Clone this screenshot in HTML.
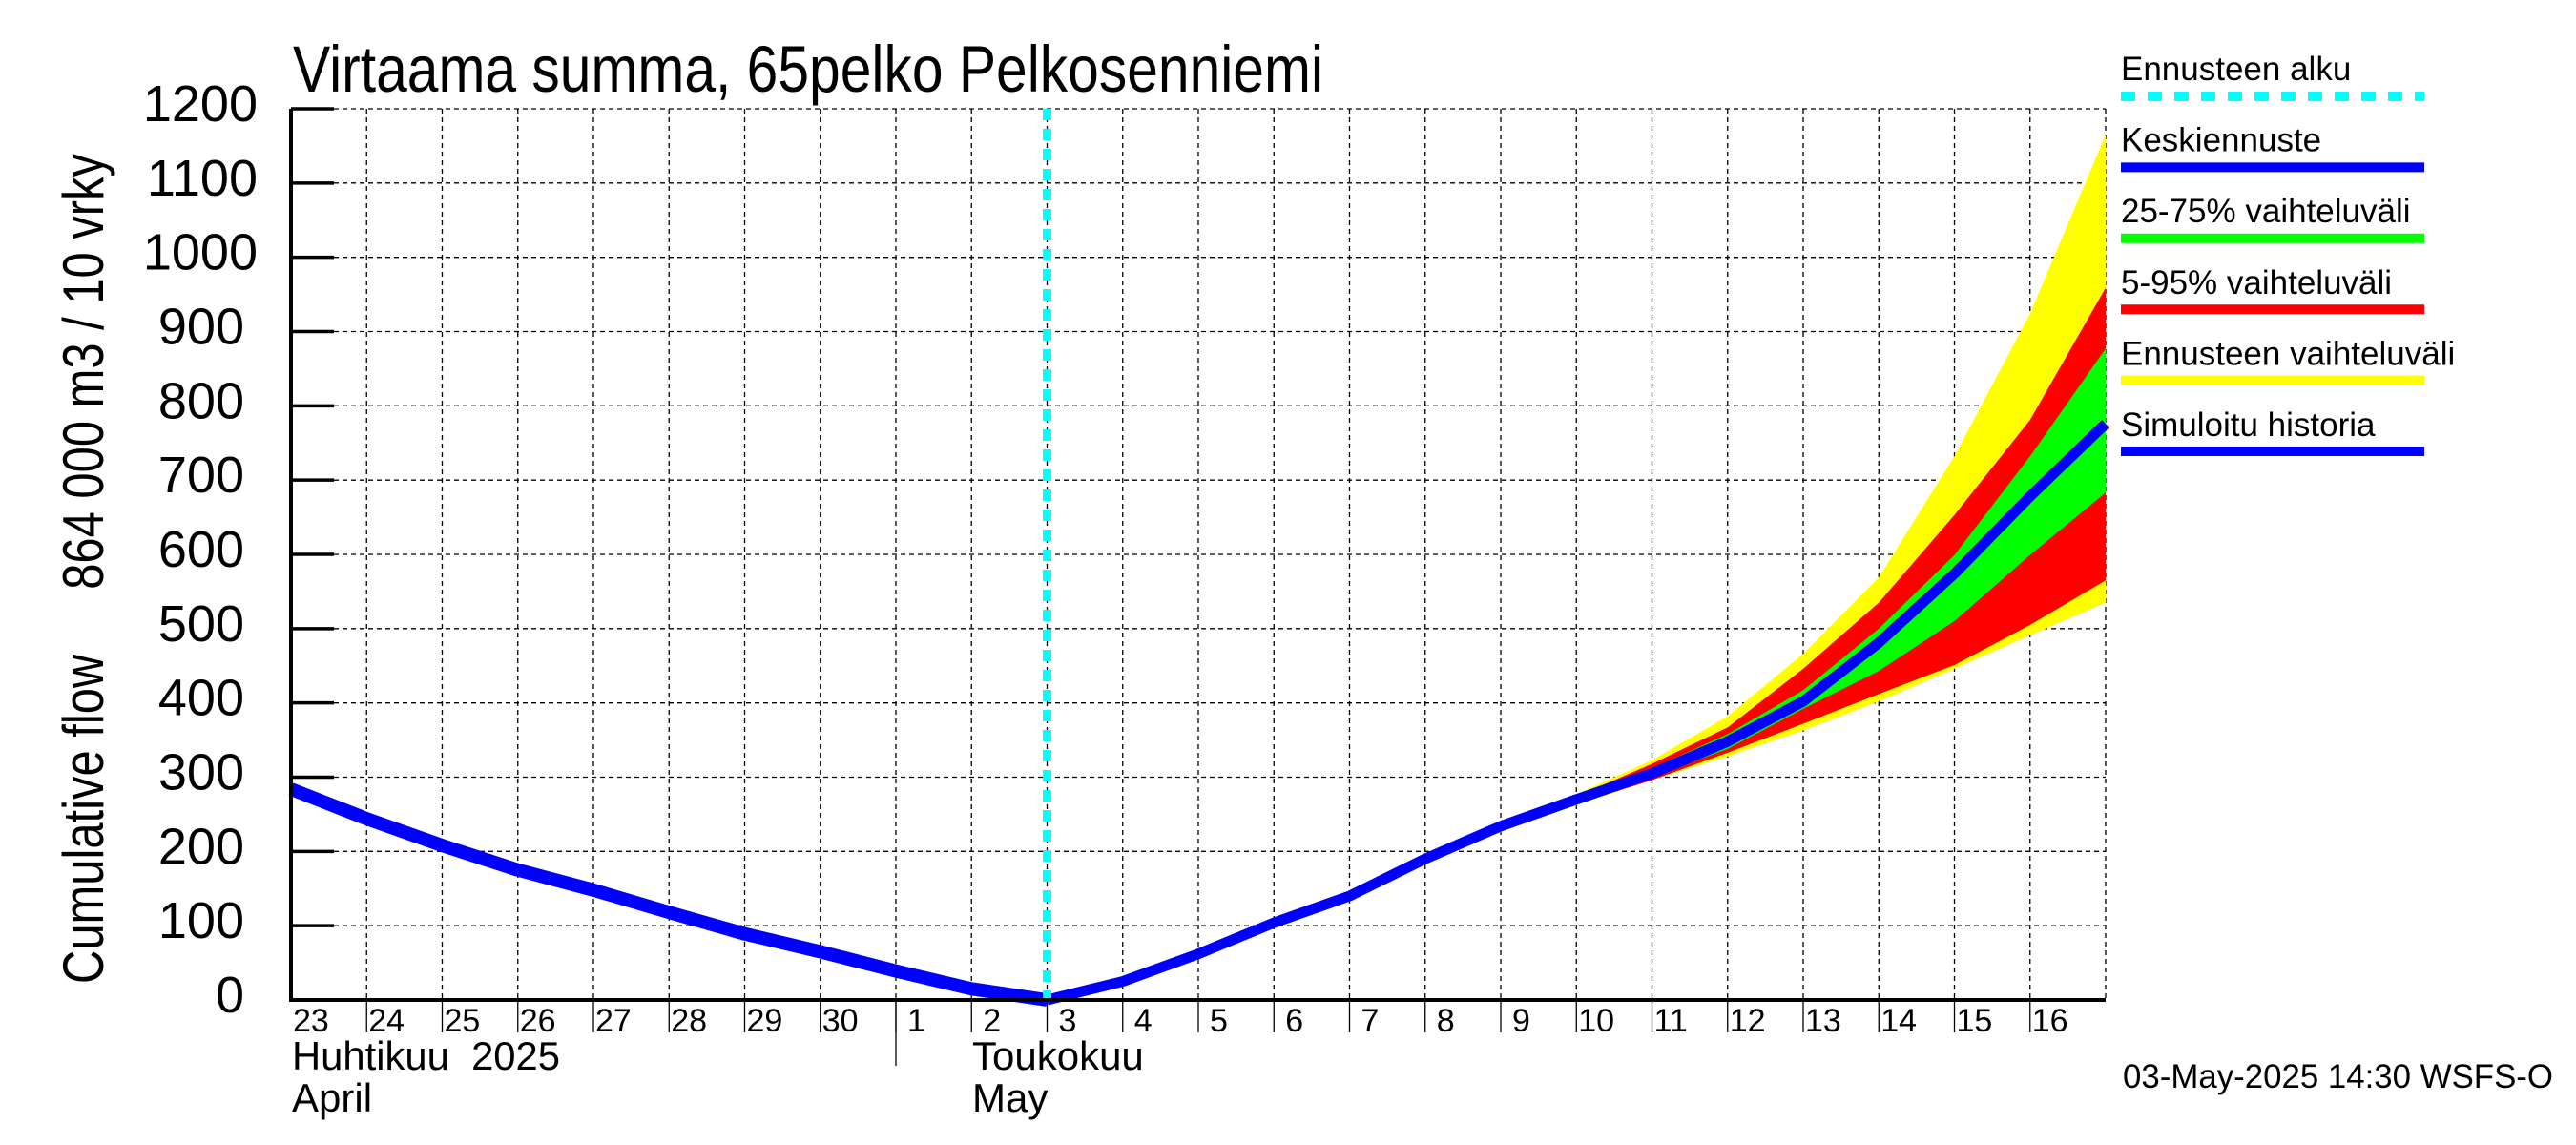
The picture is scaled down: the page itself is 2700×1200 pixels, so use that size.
<!DOCTYPE html>
<html><head><meta charset="utf-8"><style>
html,body{margin:0;padding:0;background:#fff}
svg{display:block;font-family:"Liberation Sans",sans-serif}
text{white-space:pre}
</style></head><body>
<svg id="chart" width="2700" height="1200" viewBox="0 0 2700 1200">
</svg>
<script>
const dayLabels=["23","24","25","26","27","28","29","30","1","2","3","4","5","6","7","8","9","10","11","12","13","14","15","16"];
const yTicks=[0,100,200,300,400,500,600,700,800,900,1000,1100,1200];
const histDays=[0,1,2,3,4,5,6,7,8,9,10];
const histValues=[284,244,208,175,148,118,89,65,39,15,0];
const fcDays=[10,11,12,13,14,15,16,17,18,19,20,21,22,23,24];
const medianValues=[0,25,62,104,140,190,234,270,305,348,402,481,574,678,776];
const yellowHigh=[0,25,62,104,142,193,240,277,323,382,466,569,732,924,1165];
const yellowLow=[0,25,62,104,138,186,226,262,296,328,363,402,446,491,535];
const redHigh=[0,25,62,104,141,191,237,274,318,367,446,535,653,781,959];
const redLow=[0,25,62,104,139,187,228,264,296,333,372,412,451,505,565];
const greenHigh=[0,25,62,104,140,190,235,272,312,358,417,500,599,732,877];
const greenLow=[0,25,62,104,140,189,232,268,300,338,392,443,510,599,683];
const forecastStart=10;

const L=305,R=2207,T=114,B=1048,NDAYS=24,YMAX=1200;
const xs=d=>L+(R-L)*d/NDAYS;
const ys=v=>B-(B-T)*v/YMAX;
const svg=document.getElementById('chart');
const NS='http://www.w3.org/2000/svg';
function mk(tag,attrs,parent){const e=document.createElementNS(NS,tag);for(const k in attrs)e.setAttribute(k,attrs[k]);(parent||svg).appendChild(e);return e;}

const grid=mk('g',{});


yTicks.forEach(v=>{if(v>0){const l=mk('line',{x1:L,x2:R,y1:ys(v),y2:ys(v),stroke:'#000','stroke-width':1.3,'stroke-dasharray':'5,4'},grid);

}});
for(let d=1;d<=NDAYS;d++){const l=mk('line',{x1:xs(d),x2:xs(d),y1:T,y2:B,stroke:'#000','stroke-width':1.3,'stroke-dasharray':'5,4'},grid);

}

function band(hi,lo,color,name){
  let p='M'+fcDays.map((d,i)=>xs(d)+','+ys(hi[i])).join('L');
  p+='L'+fcDays.slice().reverse().map((d,i)=>xs(d)+','+ys(lo[lo.length-1-i])).join('L')+'Z';
  const e=mk('path',{d:p,fill:color,stroke:'none'});
  
  
}
band(yellowHigh,yellowLow,'#ffff00','forecast-range-band');
band(redHigh,redLow,'#ff0000','band-5-95');
band(greenHigh,greenLow,'#00ff00','band-25-75');

const hl=mk('polyline',{points:histDays.map((d,i)=>xs(d)+','+ys(histValues[i])).join(' '),fill:'none',stroke:'#0000ff','stroke-width':14,'stroke-linejoin':'round'});


const ml=mk('polyline',{points:fcDays.map((d,i)=>xs(d)+','+ys(medianValues[i])).join(' '),fill:'none',stroke:'#0000ff','stroke-width':11,'stroke-linejoin':'round'});



const fs=mk('line',{x1:xs(forecastStart),x2:xs(forecastStart),y1:T,y2:B,stroke:'#00ffff','stroke-width':9,'stroke-dasharray':'12,9'});



const ax=mk('path',{d:`M${L},${T}V${B}H${R}`,fill:'none',stroke:'#000','stroke-width':4});



yTicks.forEach(v=>{
  const t=mk('line',{x1:L,x2:L+45,y1:ys(v),y2:ys(v),stroke:'#000','stroke-width':3.5});
  
  
  const tx=mk('text',{x:v>=1000?270:256,y:ys(v)+13,'text-anchor':'end','font-size':54});
  tx.textContent=v;
  
  
});
dayLabels.forEach((s,i)=>{
  if(i>0){const t=mk('line',{x1:xs(i),x2:xs(i),y1:B,y2:B+34,stroke:'#000','stroke-width':1.3});
  
  }
  const tx=mk('text',{x:xs(i)+(s.length>1?2:12),y:1081,'font-size':34});
  tx.textContent=s;
  
  
});
const sep=mk('line',{x1:xs(8),x2:xs(8),y1:B,y2:1117,stroke:'#000','stroke-width':1.3});


function txt(x,y,s,fs,name,extra){const e=mk('text',Object.assign({x:x,y:y,'font-size':fs},extra||{}));e.textContent=s;

return e;}
txt(306,1121,'Huhtikuu  2025',42,'month-label-april-fi',{textLength:281,lengthAdjust:'spacingAndGlyphs'});
txt(306,1165,'April',42,'month-label-april-en');
txt(1019,1121,'Toukokuu',42,'month-label-may-fi');
txt(1019,1165,'May',42,'month-label-may-en');
txt(0,0,'Virtaama summa, 65pelko Pelkosenniemi',58,'chart-title',{transform:'translate(307,96) scale(1,1.19)',textLength:1080,lengthAdjust:'spacingAndGlyphs'});
txt(0,0,'Cumulative flow     864 000 m3 / 10 vrky',60,'y-axis-title',{'text-anchor':'middle',transform:'translate(108,596) rotate(-90)',textLength:870,lengthAdjust:'spacingAndGlyphs'});

const legend=[['Ennusteen alku','#00ffff',true],['Keskiennuste','#0000ff'],['25-75% vaihteluväli','#00ff00'],['5-95% vaihteluväli','#ff0000'],['Ennusteen vaihteluväli','#ffff00'],['Simuloitu historia','#0000ff']];
legend.forEach((e,i)=>{
  const g=mk('g',{});
  
  
  const t=mk('text',{x:2223,y:84+i*74.6,'font-size':35},g);t.textContent=e[0];
  const a={x1:2223,x2:2541,y1:101+i*74.4,y2:101+i*74.4,stroke:e[1],'stroke-width':10};
  if(e[2])a['stroke-dasharray']='15,13';
  mk('line',a,g);
});
txt(2225,1140,'03-May-2025 14:30 WSFS-O',35,'timestamp-footer',{textLength:451,lengthAdjust:'spacingAndGlyphs'});
</script>
</body></html>
